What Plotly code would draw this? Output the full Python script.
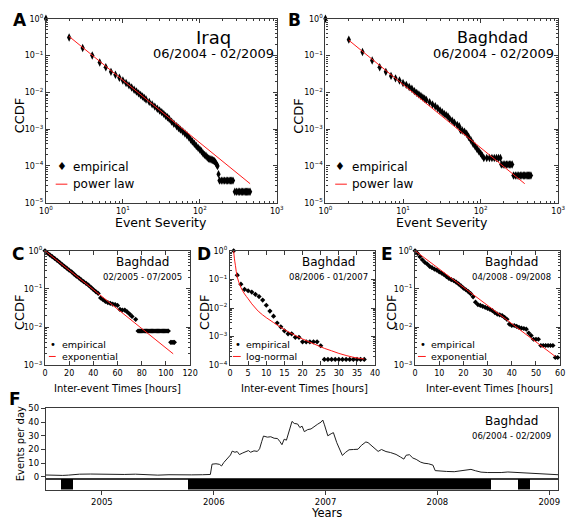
import plotly.graph_objects as go

W, H = 574, 523
FONT = "DejaVu Sans"
RED = "#ff1a1a"
AX = "#3a3a3a"


def px(x):
    return x / W


def py(y):
    return 1 - y / H


# ---------------- data ----------------
# Panel A: Iraq event severity CCDF
a_sev = [1, 2, 3, 4, 5, 6, 7, 8, 9, 10, 11, 12, 13, 14, 15, 16, 17, 18, 19, 20,
         22, 24, 26, 28, 30, 32, 34, 36, 38, 40, 43, 46, 50, 53, 56, 60, 64, 68,
         72, 76, 80, 85, 90, 95, 100, 105, 110, 115, 120, 125, 130, 135, 140,
         145, 150, 155, 160, 165, 170, 175,
         180, 190, 200, 210, 220, 230, 240, 250, 260, 270,
         285, 300, 315, 330, 345, 360, 375, 390, 405, 420, 435, 450]
a_ccdf = [1.0, 0.31, 0.16, 0.10, 0.065, 0.048, 0.036, 0.030, 0.025, 0.021, 0.018,
          0.0155, 0.0135, 0.0118, 0.0105, 0.0094, 0.0085, 0.0077, 0.0070, 0.0064,
          0.0055, 0.0047, 0.0041, 0.0036, 0.0032, 0.0029, 0.0026, 0.0023, 0.0021,
          0.0019, 0.0016, 0.0014, 0.0012, 0.00108, 0.00097, 0.00086, 0.00076,
          0.00068, 0.00060, 0.00052, 0.00046, 0.00040, 0.00035, 0.00031, 0.00028,
          0.00025, 0.00022, 0.00020, 0.00019, 0.00017, 0.00016, 0.000155,
          0.00015, 0.000145, 0.00014, 0.000135, 0.000125, 0.00011, 0.0001, 0.00006,
          4e-5, 4e-5, 4e-5, 4e-5, 4e-5, 4e-5, 4e-5, 4e-5, 4e-5, 4e-5,
          2e-5, 2e-5, 2e-5, 2e-5, 2e-5, 2e-5, 2e-5, 2e-5, 2e-5, 2e-5, 2e-5, 2e-5]
a_fit_x = [2, 450]
a_fit_y = [0.33, 3.3e-5]

# Panel B: Baghdad event severity CCDF
b_sev = [1, 2, 3, 4, 5, 6, 7, 8, 9, 10, 11, 12, 13, 14, 15, 16, 17, 18, 19, 20,
         22, 24, 26, 28, 30, 32, 34, 36, 38, 40, 43, 46, 50, 53, 55, 58, 62, 66,
         70, 75, 80, 85, 90, 95, 100, 105,
         110, 120, 130, 140, 150, 160, 170, 180,
         185, 195, 205, 215, 225, 235, 245, 255,
         265, 280, 295, 310, 325, 340, 355, 370, 385, 400, 415, 430, 445]
b_ccdf = [1.0, 0.27, 0.125, 0.073, 0.048, 0.036, 0.028, 0.024, 0.021, 0.018, 0.016,
          0.014, 0.0125, 0.0108, 0.0097, 0.0088, 0.0080, 0.0073, 0.0067, 0.0062,
          0.0054, 0.0047, 0.0042, 0.0037, 0.0032, 0.0029, 0.0026, 0.0024, 0.0022,
          0.0019, 0.0017, 0.0015, 0.0013, 0.0012, 0.00095, 0.00092, 0.00085,
          0.00075, 0.00062, 0.0005, 0.00040, 0.00034, 0.00029, 0.00025, 0.00022,
          0.00019,
          1.65e-4, 1.65e-4, 1.65e-4, 1.65e-4, 1.65e-4, 1.65e-4, 1.65e-4, 1.65e-4,
          1.1e-4, 1.1e-4, 1.1e-4, 1.1e-4, 1.1e-4, 1.1e-4, 1.1e-4, 1.1e-4,
          5.5e-5, 5.5e-5, 5.5e-5, 5.5e-5, 5.5e-5, 5.5e-5, 5.5e-5, 5.5e-5, 5.5e-5,
          5.5e-5, 5.5e-5, 5.5e-5, 5.5e-5]
b_fit_x = [2, 370]
b_fit_y = [0.26, 3.3e-5]

# Panel C: inter-event times 02/2005 - 07/2005
c_hours = [0, 2, 4, 6, 8, 10, 12, 14, 16, 18, 20, 22, 24, 26, 28, 30, 32, 34, 36,
           38, 40, 42, 44, 46, 48, 50, 52, 54, 56, 58, 60, 62, 64, 66, 68, 70, 72,
           75,
           77, 78, 79, 80, 81, 82, 83, 84, 85, 86, 87, 88, 89, 90, 91, 92, 93, 94,
           95, 96, 97, 98, 99, 100, 101, 102,
           104, 105, 106, 107]
c_ccdf = [1.0, 0.87, 0.78, 0.70, 0.63, 0.56, 0.50, 0.44, 0.39, 0.35, 0.31, 0.28,
          0.245, 0.215, 0.195, 0.172, 0.155, 0.14, 0.125, 0.11, 0.096, 0.085,
          0.076, 0.058, 0.052, 0.047, 0.044, 0.042, 0.040, 0.039, 0.037, 0.029,
          0.028, 0.028, 0.025, 0.022, 0.019, 0.016,
          0.0079, 0.0079, 0.0079, 0.0079, 0.0079, 0.0079, 0.0079, 0.0079, 0.0079,
          0.0079, 0.0079, 0.0079, 0.0079, 0.0079, 0.0079, 0.0079, 0.0079, 0.0079,
          0.0079, 0.0079, 0.0079, 0.0079, 0.0079, 0.0079, 0.0079, 0.0079,
          0.004, 0.004, 0.004, 0.004]
c_fit_x = [0, 106]
c_fit_y = [1.0, 0.002]

# Panel D: inter-event times 08/2006 - 01/2007
d_hours = [1, 2, 3, 4, 5, 6, 7, 8, 9, 10, 11, 12, 13, 14, 15, 16, 17, 18, 19, 20,
           21, 22, 23, 24, 25, 26, 27, 28, 29, 30, 31, 32, 33, 34, 35, 36, 37]
d_ccdf = [1.0, 0.14, 0.068, 0.045, 0.040, 0.036, 0.030, 0.025, 0.019, 0.0125,
          0.0078, 0.0052, 0.0030, 0.0022, 0.0016, 0.00125, 0.00125, 0.00095,
          0.00095, 6.6e-4, 6.6e-4, 6.6e-4, 6.6e-4, 6.6e-4, 4.8e-4,
          1.6e-4, 1.6e-4, 1.6e-4, 1.6e-4, 1.6e-4, 1.6e-4, 1.6e-4, 1.6e-4, 1.6e-4,
          1.6e-4, 1.6e-4, 1.6e-4]
d_fit_x = [1, 1.2, 1.5, 2, 3, 4, 5, 6, 7, 8, 10, 12, 14, 16, 18, 20, 22, 24, 26,
           28, 30, 32, 34, 36, 37]
d_fit_y = [1.0, 0.55, 0.30, 0.12, 0.052, 0.031, 0.021, 0.014, 0.010, 0.0073,
           0.0046, 0.0031, 0.0021, 0.0015, 0.0011, 8.3e-4, 6.4e-4, 5.0e-4, 3.9e-4,
           3.2e-4, 2.6e-4, 2.2e-4, 1.9e-4, 1.73e-4, 1.65e-4]

# Panel E: inter-event times 04/2008 - 09/2008
e_hours = [0, 1, 2, 3, 4, 5, 6, 7, 8, 9, 10, 11, 12, 13, 14, 15, 16, 17, 18, 19,
           20, 21, 22, 23, 24, 25, 26, 27, 28, 29, 30, 31, 32, 33, 34, 35, 36, 37,
           38, 39, 40, 41, 42, 43, 44, 45, 46, 47, 48, 49, 50, 51, 52, 53, 54, 55,
           56, 57, 58, 59]
e_ccdf = [1.0, 0.85, 0.70, 0.58, 0.50, 0.45, 0.39, 0.36, 0.33, 0.31, 0.28, 0.26,
          0.235, 0.21, 0.19, 0.175, 0.165, 0.15, 0.135, 0.12, 0.105, 0.095, 0.085,
          0.075, 0.062, 0.045, 0.039, 0.037, 0.035, 0.033, 0.031, 0.029, 0.027,
          0.024, 0.022, 0.021, 0.020, 0.018, 0.016, 0.012, 0.011, 0.011, 0.0105,
          0.0098, 0.0094, 0.0092, 0.0088, 0.0070, 0.0060, 0.0048, 0.0048, 0.0048,
          0.0033, 0.0033, 0.0033, 0.0033, 0.0033, 0.0033, 0.0016, 0.0016]
e_fit_x = [0, 58]
e_fit_y = [1.0, 0.0017]

# Panel F: events per day in Baghdad
f_year = [2004.50, 2004.55, 2004.60, 2004.65, 2004.70, 2004.75, 2004.80, 2004.90,
          2005.00, 2005.10, 2005.20, 2005.30, 2005.40, 2005.50, 2005.60, 2005.70,
          2005.80, 2005.90, 2005.97, 2005.985, 2006.02, 2006.05, 2006.07, 2006.09,
          2006.12, 2006.15, 2006.165, 2006.19, 2006.21, 2006.23, 2006.26, 2006.29,
          2006.31, 2006.33, 2006.36, 2006.39, 2006.41, 2006.43, 2006.445, 2006.48,
          2006.51, 2006.54, 2006.57, 2006.59, 2006.61, 2006.63, 2006.65, 2006.68,
          2006.70, 2006.72, 2006.75, 2006.77, 2006.79, 2006.81, 2006.84, 2006.87,
          2006.90, 2006.93, 2006.96, 2006.975, 2006.99, 2007.02, 2007.05, 2007.07,
          2007.10, 2007.13, 2007.15, 2007.18, 2007.21, 2007.25, 2007.29, 2007.32,
          2007.36, 2007.38, 2007.41, 2007.44, 2007.47, 2007.50, 2007.54, 2007.58,
          2007.63, 2007.67, 2007.70, 2007.72, 2007.75, 2007.78, 2007.81, 2007.85,
          2007.88, 2007.92, 2007.96, 2007.98, 2008.02, 2008.08, 2008.15, 2008.20,
          2008.25, 2008.30, 2008.34, 2008.39, 2008.45, 2008.50, 2008.57, 2008.63,
          2008.68, 2008.75, 2008.81, 2008.87, 2008.94, 2009.00, 2009.08]
f_events = [1.4, 1.2, 1.0, 1.1, 1.3, 1.9, 2.0, 2.1, 1.9, 2.0, 1.8, 2.0, 1.7, 1.3,
            1.6, 1.8, 1.5, 1.6, 1.8, 9.3, 9.6, 9.2, 8.0, 10.5, 13.5, 16.0, 18.8,
            18.0, 18.5, 16.3, 17.5, 18.2, 19.2, 18.0, 19.0, 18.6, 20.5, 26.0, 29.8,
            29.0, 29.3, 28.2, 28.0, 26.0, 23.5, 27.5, 26.8, 35.0, 40.5, 39.0, 38.6,
            36.0, 37.0, 33.0, 34.5, 35.0, 37.0, 38.5, 40.0, 41.5, 38.0, 30.0, 31.5,
            32.3, 25.0, 18.5, 15.7, 18.0, 19.8, 20.0, 20.2, 23.0, 25.5, 25.0, 23.0,
            21.0, 18.6, 20.0, 18.5, 17.8, 16.4, 14.5, 13.0, 15.8, 16.2, 13.8, 12.8,
            10.8, 10.0, 9.6, 8.6, 4.6, 4.2, 4.0, 3.8, 4.3, 4.6, 5.5, 4.5, 3.5, 3.2,
            3.0, 3.2, 3.6, 3.4, 3.0, 2.6, 2.4, 2.2, 1.9, 1.6]
# black strip below panel F
strip_start = [2004.635, 2005.774, 2008.72]
strip_end = [2004.74, 2008.478, 2008.83]

year_ticks = [2005, 2006, 2007, 2008, 2009]

# ---------------- figure ----------------
fig = go.Figure()


def emp(x, y, xa, ya, symbol, size):
    fig.add_trace(go.Scatter(x=x, y=y, mode="markers", xaxis=xa, yaxis=ya,
                             marker=dict(symbol=symbol, size=size, color="black",
                                         line=dict(width=0)),
                             cliponaxis=False, showlegend=False, hoverinfo="skip"))


def fit(x, y, xa, ya, spline=False):
    fig.add_trace(go.Scatter(x=x, y=y, mode="lines", xaxis=xa, yaxis=ya,
                             line=dict(color=RED, width=1,
                                       shape="spline" if spline else "linear"),
                             showlegend=False, hoverinfo="skip"))


emp(a_sev, a_ccdf, "x", "y", "diamond-tall", 6)
fit(a_fit_x, a_fit_y, "x", "y")
emp(b_sev, b_ccdf, "x2", "y2", "diamond-tall", 6)
fit(b_fit_x, b_fit_y, "x2", "y2")
emp(c_hours, c_ccdf, "x3", "y3", "diamond", 4)
fit(c_fit_x, c_fit_y, "x3", "y3")
emp(d_hours, d_ccdf, "x4", "y4", "diamond", 4)
fit(d_fit_x, d_fit_y, "x4", "y4", spline=True)
emp(e_hours, e_ccdf, "x5", "y5", "diamond", 4)
fit(e_fit_x, e_fit_y, "x5", "y5")

fig.add_trace(go.Scatter(x=f_year, y=f_events, mode="lines", xaxis="x6", yaxis="y6",
                         line=dict(color="#1e1e1e", width=1), showlegend=False,
                         hoverinfo="skip"))
fig.add_trace(go.Bar(y=[0] * len(strip_start),
                     x=[e - s for s, e in zip(strip_start, strip_end)],
                     base=strip_start, orientation="h", width=1,
                     marker=dict(color="black", line=dict(width=0)),
                     xaxis="x7", yaxis="y7", showlegend=False, hoverinfo="skip"))


def sup(e):
    return "10<sup>%s</sup>" % (str(e) if e >= 0 else "\u2212" + str(-e))


def minor_vals(lo, hi):
    return [k * 10.0 ** e for e in range(lo, hi) for k in range(2, 10)]


def base_axis(domain, anchor):
    return dict(domain=domain, anchor=anchor, showline=True, linecolor=AX,
                linewidth=1.3, mirror="allticks", ticks="inside", ticklen=4,
                tickwidth=1, tickcolor=AX, showgrid=False, zeroline=False,
                tickfont=dict(family=FONT, size=8, color="black"))


def log_axis(domain, anchor, lo, hi):
    d = base_axis(domain, anchor)
    d.update(type="log", range=[lo, hi], tickmode="array",
             tickvals=[10.0 ** e for e in range(lo, hi + 1)],
             ticktext=[sup(e) for e in range(lo, hi + 1)],
             minor=dict(tickmode="array", tickvals=minor_vals(lo, hi),
                        ticks="inside", ticklen=2, tickcolor=AX, showgrid=False))
    return d


def lin_axis(domain, anchor, lo, hi, step):
    d = base_axis(domain, anchor)
    d.update(range=[lo, hi], tickmode="array",
             tickvals=list(range(lo, hi + 1, step)))
    return d


yAB = [py(201), py(13)]
yCDE = [py(367), py(250)]

layout = dict(
    width=W, height=H, margin=dict(l=0, r=0, t=0, b=0),
    paper_bgcolor="white", plot_bgcolor="white",
    font=dict(family=FONT, color="black"),
    xaxis=log_axis([px(40), px(277)], "y", 0, 3),
    yaxis=log_axis(yAB, "x", -5, 0),
    xaxis2=log_axis([px(327), px(566)], "y2", 0, 3),
    yaxis2=log_axis(yAB, "x2", -5, 0),
    xaxis3=lin_axis([px(39), px(188)], "y3", 0, 120, 20),
    yaxis3=log_axis(yCDE, "x3", -3, 0),
    xaxis4=lin_axis([px(229), px(378)], "y4", 0, 40, 5),
    yaxis4=log_axis(yCDE, "x4", -4, 0),
    xaxis5=lin_axis([px(419), px(568)], "y5", 0, 60, 10),
    yaxis5=log_axis(yCDE, "x5", -3, 0),
    xaxis6=dict(domain=[px(40), px(566)], anchor="y6", range=[2004.5, 2009.08],
                showline=True, linecolor=AX, linewidth=1.2, mirror=True,
                showticklabels=False, ticks="", showgrid=False, zeroline=False),
    yaxis6=dict(domain=[py(483), py(411)], anchor="x6", range=[-1.4, 50],
                tickvals=[0, 10, 20, 30, 40, 50], ticks="outside", ticklen=4,
                tickcolor=AX, showline=True, linecolor=AX, linewidth=1.2,
                mirror=True, showgrid=False, zeroline=False,
                tickfont=dict(family=FONT, size=8.5, color="black")),
    xaxis7=dict(domain=[px(40), px(566)], anchor="y7", range=[2004.5, 2009.08],
                tickvals=year_ticks, ticktext=[str(y) for y in year_ticks],
                ticks="outside", ticklen=4, tickcolor=AX, showline=True,
                linecolor=AX, linewidth=1.2, mirror=True, showgrid=False,
                zeroline=False, tickfont=dict(family=FONT, size=8.5, color="black")),
    yaxis7=dict(domain=[py(494), py(483)], anchor="x7", range=[-0.5, 0.5],
                showticklabels=False, ticks="", showline=True, linecolor=AX,
                linewidth=1.2, mirror=True, showgrid=False, zeroline=False),
    bargap=0,
)

ann = []
shapes = []


def text(x, y, s, size, anchor="center", bold=False, angle=0):
    ann.append(dict(x=px(x), y=py(y), xref="paper", yref="paper", text=s,
                    showarrow=False, xanchor=anchor, yanchor="middle",
                    textangle=angle,
                    font=dict(family=FONT, size=size, color="black",
                              weight="bold" if bold else "normal")))


def legend(mx, y1, y2, lx0, lx1, tx, lab1, lab2, size, marker, msize):
    text(mx, y1, marker, msize)
    text(tx, y1, lab1, size, anchor="left")
    shapes.append(dict(type="line", xref="paper", yref="paper", x0=px(lx0),
                       x1=px(lx1), y0=py(y2), y1=py(y2),
                       line=dict(color=RED, width=1)))
    text(tx, y2, lab2, size, anchor="left")


# panel letters
for lx, ly, s in [(13, 14, "A"), (295, 14, "B"), (11, 253, "C"), (202, 253, "D"),
                  (390, 253, "E"), (8, 401, "F")]:
    text(lx, ly, s, 17, bold=True)

# titles inside panels
text(212, 32, "Iraq", 18)
text(212, 49, "06/2004 - 02/2009", 13)
text(499, 32, "Baghdad", 16)
text(500, 49, "06/2004 - 02/2009", 13)
text(139, 262, "Baghdad", 12)
text(139, 277, "02/2005 - 07/2005", 8.5)
text(330, 262, "Baghdad", 12)
text(330, 277, "08/2006 - 01/2007", 8.5)
text(518, 262, "Baghdad", 12)
text(518, 277, "04/2008 - 09/2008", 8.5)
text(518, 424, "Baghdad", 12)
text(518, 439, "06/2004 - 02/2009", 8.5)

# legends
legend(56, 164, 182, 50, 62, 66, "empirical", "power law", 12, "\u2666", 11)
legend(342, 164, 182, 337, 349, 352, "empirical", "power law", 12, "\u2666", 11)
legend(47, 346, 358, 43, 50, 54, "empirical", "exponential", 9.5, "\u2022", 10)
legend(237, 346, 358, 232, 240, 243, "empirical", "log-normal", 9.5, "\u2022", 10)
legend(427, 346, 358, 422, 430, 433, "empirical", "exponential", 9.5, "\u2022", 10)

# axis titles
text(13, 112, "CCDF", 13, angle=-90)
text(299, 112, "CCDF", 13, angle=-90)
text(158, 221, "Event Severity", 12.5)
text(447, 221, "Event Severity", 12.5)
for cx, ax_x in [(13, 113), (203, 305), (395, 495)]:
    text(cx, 313, "CCDF", 13, angle=-90)
    text(ax_x, 391, "Inter-event Times [hours]", 10)
text(14, 447, "Events per day", 10, angle=-90)
text(328, 517.5, "Years", 11.5)

layout["annotations"] = ann
layout["shapes"] = shapes
fig.update_layout(**layout)
fig.write_html(
    "out.html",
    config={"displayModeBar": False},
    post_script="document.body.style.margin='0';document.body.style.overflow='hidden';",
)
